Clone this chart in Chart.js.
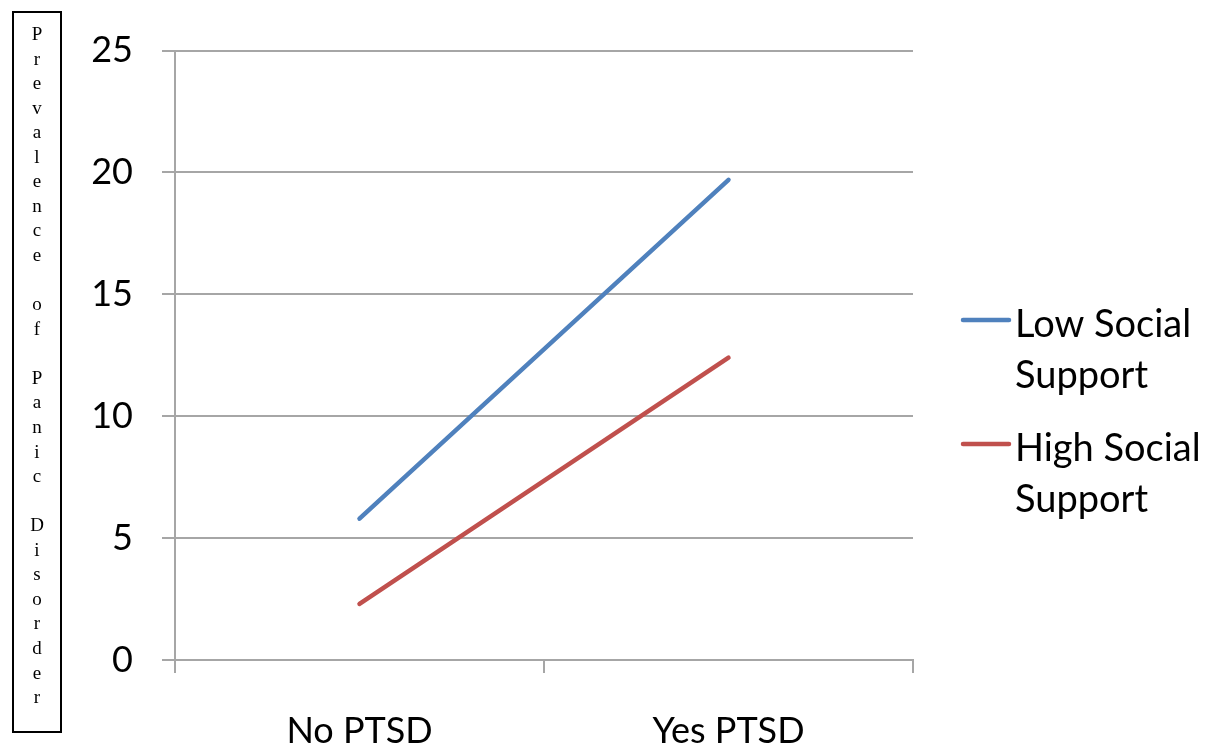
<!DOCTYPE html>
<html>
<head>
<meta charset="utf-8">
<script src="https://cdn.jsdelivr.net/npm/chart.js@4/dist/chart.umd.min.js"></script>
<style>
  html, body { margin: 0; padding: 0; background: #ffffff; }
  #wrap { position: relative; width: 1209px; height: 751px; }
</style>
</head>
<body>
<div id="wrap"><canvas id="c" width="1209" height="751"></canvas></div>
<script>
const categories = ["No PTSD", "Yes PTSD"];
const lowSupport = [5.8, 19.7];
const highSupport = [2.3, 12.4];
const seriesNames = [["Low Social", "Support"], ["High Social", "Support"]];
const yTicks = [0, 5, 10, 15, 20, 25];
const yTitle = "Prevalence of Panic Disorder";

const GRID = "#a6a6a6";
const FONT = "Lato";

const yTitlePlugin = {
  id: "yTitleBox",
  afterDraw(chart) {
    const ctx = chart.ctx;
    ctx.save();
    ctx.strokeStyle = "#000000";
    ctx.lineWidth = 2;
    ctx.strokeRect(13, 12, 48, 720);
    ctx.fillStyle = "#000000";
    ctx.font = "19px 'Liberation Serif', 'Times New Roman', serif";
    ctx.textAlign = "center";
    ctx.textBaseline = "alphabetic";
    const chars = Array.from(yTitle);
    chars.forEach((ch, k) => {
      if (ch !== " ") ctx.fillText(ch, 37, 40 + k * 24.56);
    });
    ctx.restore();
  }
};

const legendPlugin = {
  id: "customLegend",
  afterDraw(chart) {
    const ctx = chart.ctx;
    ctx.save();
    const starts = [337, 461];
    chart.data.datasets.forEach((ds, i) => {
      const base = starts[i];
      ctx.strokeStyle = ds.borderColor;
      ctx.lineWidth = 4.5;
      ctx.lineCap = "round";
      ctx.beginPath();
      ctx.moveTo(963, base - 17);
      ctx.lineTo(1009, base - 17);
      ctx.stroke();
      ctx.fillStyle = "#000000";
      ctx.font = "38px " + FONT;
      ctx.textAlign = "left";
      ctx.textBaseline = "alphabetic";
      const lines = seriesNames[i];
      lines.forEach((t, j) => ctx.fillText(t, 1015, base + j * 51));
    });
    ctx.restore();
  }
};

new Chart(document.getElementById("c"), {
  type: "line",
  data: {
    labels: categories,
    datasets: [
      { label: seriesNames[0].join(" "), data: lowSupport, borderColor: "#4F81BD", backgroundColor: "#4F81BD", borderWidth: 4.5, pointRadius: 0, borderCapStyle: "round", tension: 0 },
      { label: seriesNames[1].join(" "), data: highSupport, borderColor: "#C0504D", backgroundColor: "#C0504D", borderWidth: 4.5, pointRadius: 0, borderCapStyle: "round", tension: 0 }
    ]
  },
  options: {
    responsive: false,
    animation: false,
    devicePixelRatio: 1,
    layout: { padding: { top: 45, right: 296, bottom: 0, left: 0 } },
    plugins: {
      legend: { display: false },
      tooltip: { enabled: false },
      title: { display: false }
    },
    scales: {
      x: {
        type: "category",
        offset: true,
        afterFit(s) { s.height = 91; },
        grid: { offset: true, drawOnChartArea: false, drawTicks: true, tickLength: 13, color: GRID, lineWidth: 2 },
        border: { display: true, color: GRID, width: 2 },
        ticks: { color: "#000000", font: { family: FONT, size: 36 }, padding: 37, maxRotation: 0 }
      },
      y: {
        min: 0,
        max: 25,
        afterFit(s) { s.width = 175; },
        afterBuildTicks(s) { s.ticks = yTicks.map(v => ({ value: v })); },
        grid: { drawTicks: true, tickLength: 13, color: GRID, lineWidth: 2 },
        border: { display: true, color: GRID, width: 2 },
        ticks: { color: "#000000", font: { family: FONT, size: 36 }, padding: 29 }
      }
    }
  },
  plugins: [yTitlePlugin, legendPlugin]
});
</script>
</body>
</html>
